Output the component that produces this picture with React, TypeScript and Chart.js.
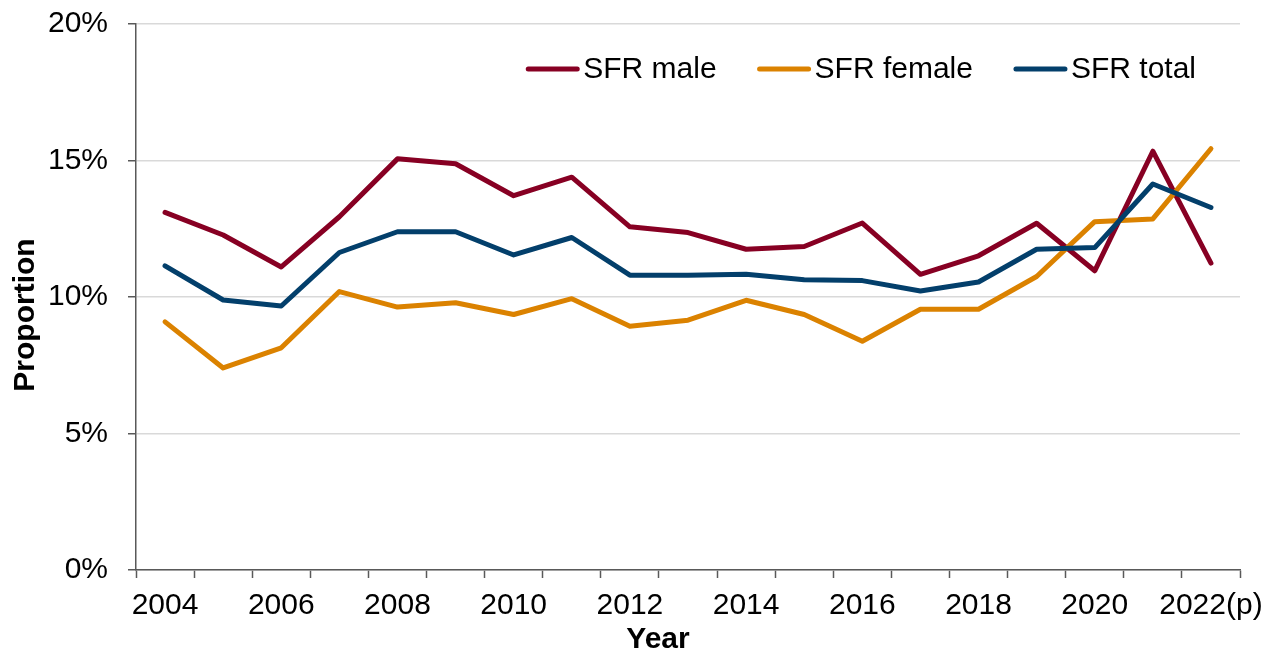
import React, { useEffect, useRef } from "react";
import { Chart, registerables } from "chart.js";

Chart.register(...registerables);

const years = ["2004", "2005", "2006", "2007", "2008", "2009", "2010", "2011", "2012", "2013", "2014", "2015", "2016", "2017", "2018", "2019", "2020", "2021", "2022(p)"];
const sfrMale = [13.1, 12.27, 11.1, 12.94, 15.06, 14.88, 13.71, 14.39, 12.57, 12.36, 11.75, 11.85, 12.71, 10.83, 11.51, 12.7, 10.96, 15.34, 11.24];
const sfrFemale = [9.09, 7.4, 8.14, 10.2, 9.63, 9.79, 9.36, 9.94, 8.93, 9.15, 9.88, 9.36, 8.38, 9.55, 9.55, 10.75, 12.76, 12.86, 15.43];
const sfrTotal = [11.14, 9.89, 9.67, 11.63, 12.39, 12.39, 11.54, 12.18, 10.8, 10.8, 10.83, 10.63, 10.6, 10.22, 10.55, 11.75, 11.81, 14.14, 13.28];
const seriesNames = ["SFR male", "SFR female", "SFR total"];
const seriesColors = ["#870023", "#DB8200", "#033F6B"];
const yTitle = "Proportion";
const xTitle = "Year";

const FONT = "'Liberation Sans', Arial, sans-serif";

const customDecor = {
  id: "customDecor",
  afterDraw(chart: any) {
    const ctx = chart.ctx;
    const area = chart.chartArea;
    ctx.save();
    // Legend
    ctx.font = `30px ${FONT}`;
    const lineW = 53;
    const textGap = 4;
    const itemGap = 41;
    const items = chart.data.datasets.map((d: any) => ({
      label: d.label,
      color: d.borderColor,
      w: lineW + textGap + ctx.measureText(d.label).width,
    }));
    const total = items.reduce((s: number, it: any) => s + it.w, 0) + itemGap * (items.length - 1);
    let x = area.right - 44 - total;
    const y = 69;
    for (const it of items) {
      ctx.strokeStyle = it.color;
      ctx.lineWidth = 5;
      ctx.lineCap = "round";
      ctx.beginPath();
      ctx.moveTo(x + 2, y);
      ctx.lineTo(x + lineW - 2, y);
      ctx.stroke();
      ctx.fillStyle = "#000";
      ctx.textBaseline = "middle";
      ctx.textAlign = "left";
      ctx.fillText(it.label, x + lineW + textGap, y + 1);
      x += it.w + itemGap;
    }
    // Axis titles
    ctx.font = `bold 30px ${FONT}`;
    ctx.fillStyle = "#000";
    ctx.textAlign = "center";
    ctx.textBaseline = "alphabetic";
    ctx.save();
    ctx.translate(34, 315);
    ctx.rotate(-Math.PI / 2);
    ctx.fillText(yTitle, 0, 0);
    ctx.restore();
    ctx.fillText(xTitle, 658, 648);
    ctx.restore();
  },
};

export default function App() {
  const ref = useRef<HTMLCanvasElement>(null);
  useEffect(() => {
    if (!ref.current) return;
    const data = [sfrMale, sfrFemale, sfrTotal];
    const chart = new Chart(ref.current, {
      type: "line",
      data: {
        labels: years,
        datasets: data.map((vals, i) => ({
          label: seriesNames[i],
          data: vals,
          borderColor: seriesColors[i],
          backgroundColor: seriesColors[i],
          borderWidth: 5,
          pointRadius: 0,
          pointHoverRadius: 0,
          tension: 0,
          borderCapStyle: "round",
          borderJoinStyle: "round",
          order: 2 - i,
        })),
      },
      options: {
        responsive: false,
        animation: false,
        layout: { padding: { top: 24, right: 35, left: 0, bottom: 0 } },
        plugins: {
          legend: { display: false },
          tooltip: { enabled: false },
        },
        scales: {
          x: {
            type: "category",
            offset: true,
            grid: {
              offset: true,
              drawOnChartArea: false,
              drawTicks: true,
              tickLength: 8,
              tickColor: "#595959",
              tickWidth: 1.5,
            },
            border: { color: "#595959", width: 1.5 },
            ticks: {
              autoSkip: false,
              maxRotation: 0,
              minRotation: 0,
              padding: 10,
              color: "#000",
              font: { family: FONT, size: 30 },
              callback: (_v: any, i: number) => (i % 2 === 0 ? years[i] : ""),
            },
            afterFit: (scale: any) => {
              scale.height = 80;
              scale.paddingLeft = 0;
              scale.paddingRight = 0;
            },
          },
          y: {
            min: 0,
            max: 20,
            grid: {
              color: "#d9d9d9",
              lineWidth: 1.5,
              tickLength: 8,
              tickColor: "#595959",
              tickWidth: 1.5,
            },
            border: { color: "#595959", width: 1.5 },
            ticks: {
              stepSize: 5,
              padding: 20,
              color: "#000",
              font: { family: FONT, size: 30 },
              callback: (v: any) => `${v}%`,
            },
            afterFit: (scale: any) => {
              scale.width = 136;
              scale.paddingTop = 0;
              scale.paddingBottom = 0;
            },
          },
        },
      },
      plugins: [customDecor],
    });
    return () => chart.destroy();
  }, []);
  return (
    <div style={{ position: "absolute", left: 0, top: 0, width: 1275, height: 650, background: "#fff" }}>
      <canvas ref={ref} width={1275} height={650} style={{ display: "block" }} />
    </div>
  );
}
